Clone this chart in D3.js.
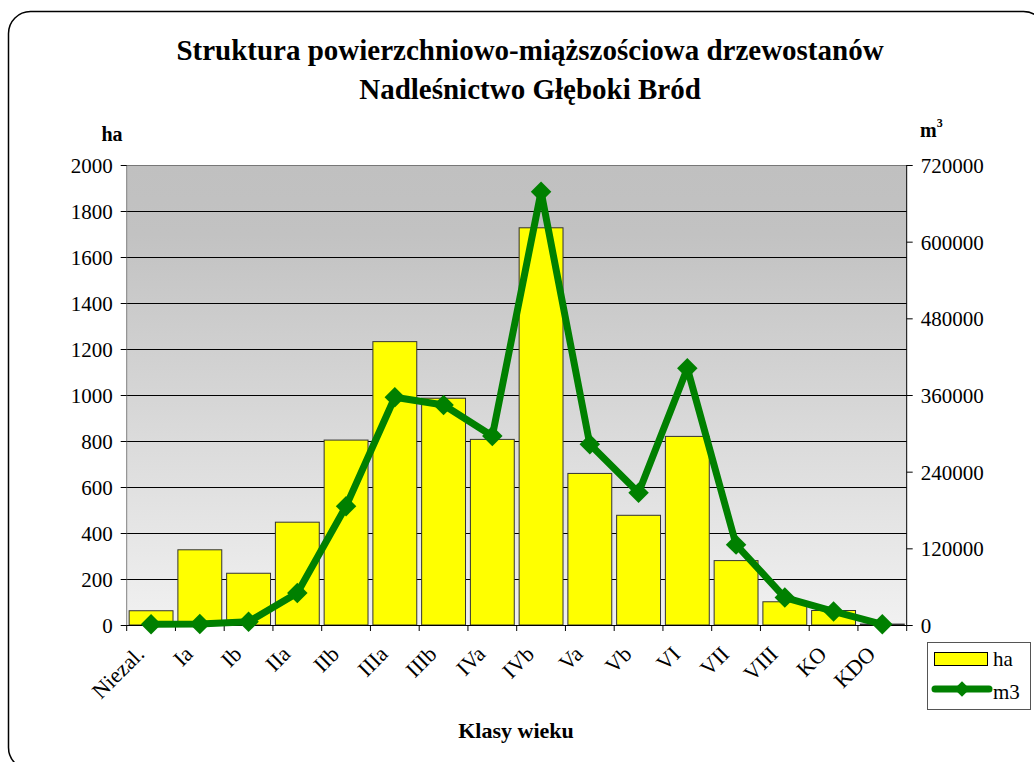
<!DOCTYPE html>
<html>
<head>
<meta charset="utf-8">
<script src="https://cdn.jsdelivr.net/npm/d3@7"></script>
<style>
  body { margin: 0; background: #fff; }
  svg text { font-family: "Liberation Serif", "Times New Roman", serif; fill: #000; }
</style>
</head>
<body>
<div id="chart"></div>
<script>
// age classes and values
var categories = ["Niezal.", "Ia", "Ib", "IIa", "IIb", "IIIa", "IIIb", "IVa", "IVb", "Va", "Vb", "VI", "VII", "VIII", "KO", "KDO"];
var haValues = [62, 327, 225, 447, 804, 1232, 986, 807, 1727, 659, 477, 820, 280, 101, 63, 4];
var m3Values = [1000, 1500, 5000, 50200, 186000, 356400, 344300, 295800, 678200, 282800, 207100, 401800, 125800, 43000, 21300, 1000];
var haTicks = [0, 200, 400, 600, 800, 1000, 1200, 1400, 1600, 1800, 2000];
var m3Ticks = [0, 120000, 240000, 360000, 480000, 600000, 720000];

var width = 1034, height = 762;
var plot = { left: 126.7, right: 906.7, top: 165, bottom: 625 };
var serif = '"Liberation Serif", "Times New Roman", serif';

var svg = d3.select("#chart").append("svg")
  .attr("width", width)
  .attr("height", height);

// background gradient of the plot area
var defs = svg.append("defs");
var grad = defs.append("linearGradient")
  .attr("id", "bgGrad")
  .attr("x1", 0).attr("y1", 0).attr("x2", 0).attr("y2", 1);
grad.append("stop").attr("offset", "0%").attr("stop-color", "#c0c0c0");
grad.append("stop").attr("offset", "15%").attr("stop-color", "#c2c2c2");
grad.append("stop").attr("offset", "100%").attr("stop-color", "#f1f1f1");

// outer rounded frame (runs off the right and bottom edge)
svg.append("rect")
  .attr("x", 8.5).attr("y", 11.5)
  .attr("width", 1037).attr("height", 758)
  .attr("rx", 22).attr("ry", 22)
  .attr("fill", "none")
  .attr("stroke", "#000")
  .attr("stroke-width", 1.5);

var x = d3.scaleBand()
  .domain(categories)
  .range([plot.left, plot.right])
  .paddingInner(0.1)
  .paddingOuter(0.05);

var yHa = d3.scaleLinear().domain([0, 2000]).range([plot.bottom, plot.top]);
var yM3 = d3.scaleLinear().domain([0, 720000]).range([plot.bottom, plot.top]);

svg.append("rect")
  .attr("x", plot.left).attr("y", plot.top)
  .attr("width", plot.right - plot.left)
  .attr("height", plot.bottom - plot.top)
  .attr("fill", "url(#bgGrad)");

// gridlines
svg.append("g")
  .selectAll("line")
  .data(haTicks.slice(1))
  .enter().append("line")
  .attr("x1", plot.left).attr("x2", plot.right)
  .attr("y1", function(d) { return Math.round(yHa(d)) + 0.5; })
  .attr("y2", function(d) { return Math.round(yHa(d)) + 0.5; })
  .attr("stroke", function(d) { return d == 2000 ? "#777" : "#000"; })
  .attr("stroke-width", 1);

// bars
svg.append("g")
  .selectAll("rect")
  .data(categories)
  .enter().append("rect")
  .attr("x", function(d) { return x(d); })
  .attr("width", x.bandwidth())
  .attr("y", function(d, i) { return yHa(haValues[i]); })
  .attr("height", function(d, i) { return plot.bottom - yHa(haValues[i]); })
  .attr("fill", "#ffff00")
  .attr("stroke", "#333")
  .attr("stroke-width", 1);

// axes
var leftAxis = d3.axisLeft(yHa).tickValues(haTicks).tickSize(6).tickPadding(8).tickFormat(d3.format("d"));
var gl = svg.append("g")
  .attr("transform", "translate(" + plot.left + ",0)")
  .call(leftAxis);
gl.select(".domain").attr("stroke", "#808080");
gl.selectAll(".tick line").attr("stroke", "#000");

var rightAxis = d3.axisRight(yM3).tickValues(m3Ticks).tickSize(6).tickPadding(8).tickFormat(d3.format("d"));
var gr = svg.append("g")
  .attr("transform", "translate(" + plot.right + ",0)")
  .call(rightAxis);
gr.select(".domain").attr("stroke", "#000");

[gl, gr].forEach(function(g) {
  g.attr("font-family", serif);
  g.selectAll(".domain").attr("d", function() {
    return "M0," + plot.top + "V" + plot.bottom;
  });
  g.selectAll("text")
    .style("font-family", serif)
    .style("font-size", "21px")
    .attr("dy", "0.35em")
    .attr("fill", "#000");
});

// bottom axis line and ticks between classes
var step = x.step();
var boundaries = d3.range(categories.length + 1).map(function(i) {
  return x(categories[0]) - step * x.paddingInner() / 2 + i * step;
});
svg.append("line")
  .attr("x1", plot.left).attr("x2", plot.right)
  .attr("y1", plot.bottom + 0.5).attr("y2", plot.bottom + 0.5)
  .attr("stroke", "#000");
svg.append("g")
  .selectAll("line")
  .data(boundaries)
  .enter().append("line")
  .attr("x1", function(d) { return d; })
  .attr("x2", function(d) { return d; })
  .attr("y1", plot.bottom).attr("y2", plot.bottom + 6)
  .attr("stroke", "#000");

// category labels, rotated
svg.append("g")
  .selectAll("text")
  .data(categories)
  .enter().append("text")
  .attr("transform", function(d) {
    return "translate(" + (x(d) + x.bandwidth() / 2 - 11) + "," + (plot.bottom + 25) + ") rotate(-45)";
  })
  .attr("text-anchor", "end")
  .attr("dy", "0.35em")
  .style("font-family", serif)
  .style("font-size", "22px")
  .text(function(d) { return d; });

// m3 line with diamond markers
var line = d3.line()
  .x(function(d, i) { return x(categories[i]) + x.bandwidth() / 2; })
  .y(function(d) { return yM3(d); });

svg.append("path")
  .datum(m3Values)
  .attr("d", line)
  .attr("fill", "none")
  .attr("stroke", "#008000")
  .attr("stroke-width", 7)
  .attr("stroke-linejoin", "round");

svg.append("g")
  .selectAll("path")
  .data(m3Values)
  .enter().append("path")
  .attr("transform", function(d, i) {
    return "translate(" + (x(categories[i]) + x.bandwidth() / 2) + "," + yM3(d) + ") rotate(45)";
  })
  .attr("d", d3.symbol().type(d3.symbolSquare).size(210))
  .attr("fill", "#008000");

// titles
var title = svg.append("text")
  .attr("x", 530)
  .attr("text-anchor", "middle")
  .style("font-family", serif)
  .style("font-size", "29px")
  .style("font-weight", "bold");
title.append("tspan").attr("x", 530).attr("y", 60).text("Struktura powierzchniowo-miąższościowa drzewostanów");
title.append("tspan").attr("x", 530).attr("y", 99).text("Nadleśnictwo Głęboki Bród");

svg.append("text")
  .attr("x", 112).attr("y", 141)
  .attr("text-anchor", "middle")
  .style("font-family", serif)
  .style("font-size", "20px")
  .style("font-weight", "bold")
  .text("ha");

var m3Label = svg.append("text")
  .attr("x", 920).attr("y", 137)
  .style("font-family", serif)
  .style("font-size", "20px")
  .style("font-weight", "bold");
m3Label.append("tspan").text("m");
m3Label.append("tspan").attr("dy", -10).style("font-size", "12px").text("3");

svg.append("text")
  .attr("x", 516).attr("y", 738)
  .attr("text-anchor", "middle")
  .style("font-family", serif)
  .style("font-size", "22px")
  .style("font-weight", "bold")
  .text("Klasy wieku");

// legend
var legend = svg.append("g").attr("transform", "translate(927,642)");
legend.append("rect")
  .attr("x", 0.5).attr("y", 0.5)
  .attr("width", 103).attr("height", 67)
  .attr("fill", "#fff")
  .attr("stroke", "#555")
  .attr("stroke-width", 1);
legend.append("rect")
  .attr("x", 7.5).attr("y", 10.5)
  .attr("width", 53).attr("height", 13)
  .attr("fill", "#ffff00")
  .attr("stroke", "#000");
legend.append("text")
  .attr("x", 66).attr("y", 24)
  .style("font-family", serif)
  .style("font-size", "21px")
  .text("ha");
legend.append("line")
  .attr("x1", 8).attr("x2", 62)
  .attr("y1", 47).attr("y2", 47)
  .attr("stroke", "#008000")
  .attr("stroke-width", 7)
  .attr("stroke-linecap", "round");
legend.append("path")
  .attr("transform", "translate(35,47) rotate(45)")
  .attr("d", d3.symbol().type(d3.symbolSquare).size(120))
  .attr("fill", "#008000");
legend.append("text")
  .attr("x", 66).attr("y", 57)
  .style("font-family", serif)
  .style("font-size", "21px")
  .text("m3");
</script>
</body>
</html>
